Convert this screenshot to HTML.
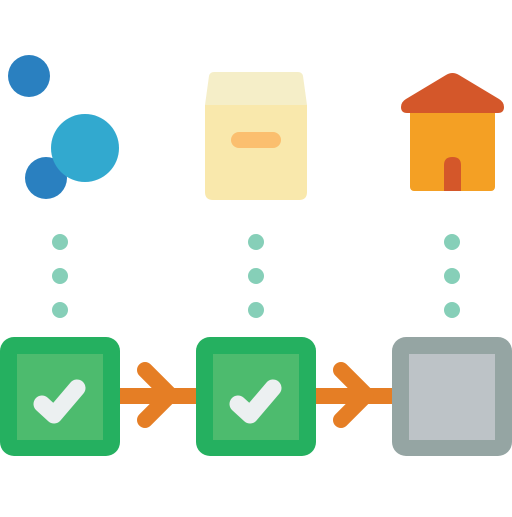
<!DOCTYPE html>
<html><head><style>html,body{margin:0;padding:0;background:#fff}</style></head>
<body>
<svg width="512" height="512" viewBox="0 0 512 512" xmlns="http://www.w3.org/2000/svg">
<circle cx="29" cy="76" r="21" fill="#2a80c0"/>
<circle cx="46" cy="178" r="21" fill="#2a80c0"/>
<circle cx="85" cy="148" r="34" fill="#32a9cf"/>
<path d="M214 72 H298 Q302 72 303 76 L307 105 H205 L209 76 Q210 72 214 72Z" fill="#f5eec8"/>
<path d="M205 105 H307 V192 Q307 200 299 200 H213 Q205 200 205 192Z" fill="#f9e8ac"/>
<rect x="231" y="132" width="50" height="16" rx="8" fill="#fbbf6f"/>
<rect x="410" y="105" width="85" height="86" rx="4" fill="#f4a024"/>
<path d="M446 75 Q452.5 71 459 75 L499 99 Q504 102 504 107 Q504 113 498 113 H407 Q401 113 401 107 Q401 102 406 99 Z" fill="#d4572a"/>
<path d="M444 191 V165 Q444 157 452.5 157 Q461 157 461 165 V191Z" fill="#d4572a"/>
<g fill="#86cfb8">
<circle cx="60" cy="242" r="8"/><circle cx="60" cy="276" r="8"/><circle cx="60" cy="310" r="8"/>
<circle cx="256" cy="242" r="8"/><circle cx="256" cy="276" r="8"/><circle cx="256" cy="310" r="8"/>
<circle cx="452" cy="242" r="8"/><circle cx="452" cy="276" r="8"/><circle cx="452" cy="310" r="8"/>
</g>
<g stroke="#e57e25" stroke-width="16" stroke-linecap="round" stroke-linejoin="round" fill="none">
<line x1="118" y1="396" x2="198" y2="396"/>
<polyline points="145,370 170,395 145,420"/>
<line x1="314" y1="396" x2="394" y2="396"/>
<polyline points="341,370 366,395 341,420"/>
</g>
<rect x="0" y="337" width="120" height="119" rx="14" fill="#25b060"/>
<rect x="17" y="354" width="86" height="86" fill="#4dbb6e"/>
<rect x="196" y="337" width="120" height="119" rx="14" fill="#25b060"/>
<rect x="213" y="354" width="86" height="86" fill="#4dbb6e"/>
<rect x="392" y="337" width="120" height="119" rx="14" fill="#95a5a3"/>
<rect x="409" y="354" width="86" height="86" fill="#bdc3c7"/>
<g stroke="#ecf0f1" stroke-width="17" stroke-linecap="round" stroke-linejoin="round" fill="none">
<polyline points="42,404 54,415 77,388"/>
<polyline points="238,404 250,415 273,388"/>
</g>
</svg>
</body></html>
